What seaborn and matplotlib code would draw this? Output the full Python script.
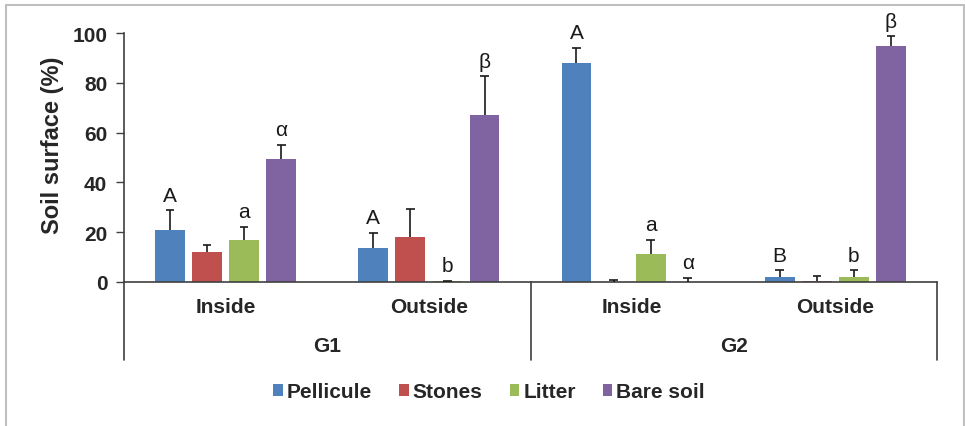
import matplotlib
matplotlib.use("Agg")
import matplotlib.pyplot as plt
import matplotlib.transforms as mtransforms
from matplotlib.lines import Line2D
import numpy as np
import pandas as pd
import seaborn as sns

# ---- data ----
groups = ["G1", "G1", "G2", "G2"]
positions = ["Inside", "Outside", "Inside", "Outside"]
series = ["Pellicule", "Stones", "Litter", "Bare soil"]
pellicule = [20.8, 13.7, 87.9, 2.1]
stones = [12.1, 18.2, 0.0, 0.5]
litter = [16.8, 0.3, 11.4, 2.1]
bare_soil = [49.2, 67.2, 0.0, 94.6]
pellicule_err = [8.0, 5.9, 6.1, 2.6]
stones_err = [2.8, 11.2, 1.0, 2.1]
litter_err = [5.3, 0.2, 5.4, 2.6]
bare_soil_err = [5.9, 15.4, 1.6, 4.1]
pellicule_lab = ["A", "A", "A", "B"]
stones_lab = ["", "", "", ""]
litter_lab = ["a", "b", "a", "b"]
bare_soil_lab = ["α", "β", "α", "β"]
yticks = [0, 20, 40, 60, 80, 100]
colors = ["#4F81BD", "#C0504D", "#9BBB59", "#8064A2"]

values = [pellicule, stones, litter, bare_soil]
errs = [pellicule_err, stones_err, litter_err, bare_soil_err]
labs = [pellicule_lab, stones_lab, litter_lab, bare_soil_lab]
keys = [f"{g}-{p}" for g, p in zip(groups, positions)]

rows = []
for s, vals in zip(series, values):
    for k, v in zip(keys, vals):
        rows.append({"cat": k, "series": s, "value": v})
df = pd.DataFrame(rows)

sns.set_theme(style="white")
plt.rcParams["font.family"] = ["Liberation Sans", "DejaVu Sans"]

fig = plt.figure(figsize=(9.65, 4.27), dpi=100)
ax = fig.add_axes([124 / 965, 1 - 283 / 427, (937 - 124) / 965, (283 - 34) / 427])

sns.barplot(data=df, x="cat", y="value", hue="series", order=keys,
            hue_order=series, palette=colors, width=0.73, gap=0.2,
            errorbar=None, ax=ax, saturation=1, linewidth=0)

axis_col = "#404040"
err_col = "#1a1a1a"
cap_half = 0.021
for cont, err, lab in zip(ax.containers, errs, labs):
    xs = np.array([p.get_x() + p.get_width() / 2 for p in cont.patches])
    hs = np.array([p.get_height() for p in cont.patches])
    tops = hs + np.array(err)
    ax.vlines(xs, hs, tops, colors=err_col, lw=1.2, zorder=3)
    ax.hlines(tops, xs - cap_half, xs + cap_half, colors=err_col, lw=1.2, zorder=3)
    for x, top, t in zip(xs, tops, lab):
        if t:
            ax.annotate(t, (x, top), xytext=(0, 7), textcoords="offset points",
                        ha="center", va="baseline", fontsize=15, color=err_col)

ax.set_xlim(-0.5, 3.5)
ax.set_ylim(0, 100)
ax.set_yticks(yticks)
ax.set_yticklabels([str(t) for t in yticks], fontsize=15, fontweight="bold")
ax.tick_params(axis="y", length=6, width=1, color=axis_col, pad=6, left=True,
               direction="out")
ax.set_xticks([])
ax.set_xlabel("")
ax.set_ylabel("")
for s in ["top", "right"]:
    ax.spines[s].set_visible(False)
for s in ["left", "bottom"]:
    ax.spines[s].set_color(axis_col)
    ax.spines[s].set_linewidth(1.2)

ax.text(-0.088, 0.552, "Soil surface (%)", transform=ax.transAxes, rotation=90,
        ha="center", va="center", fontsize=17, fontweight="bold")

trans = mtransforms.blended_transform_factory(ax.transData, ax.transAxes)
ybot = (283 - 361) / 249
for xv in [-0.5, 1.5, 3.5]:
    ax.add_line(Line2D([xv, xv], [0, ybot], transform=trans, color=axis_col,
                       lw=1.2, clip_on=False))
for i, p in enumerate(positions):
    ax.text(i, -0.10, p, transform=trans, ha="center", va="center",
            fontsize=15, fontweight="bold")
for gname, xc in [("G1", 0.5), ("G2", 2.5)]:
    ax.text(xc, -0.257, gname, transform=trans, ha="center", va="center",
            fontsize=15, fontweight="bold")

sns.move_legend(ax, "center", bbox_to_anchor=(0.507, 0.080),
                bbox_transform=fig.transFigure, ncol=4, frameon=False,
                title=None, handlelength=0.45, handleheight=0.45,
                handletextpad=0.2, columnspacing=1.3,
                prop={"size": 15, "weight": "bold"})

# outer chart border
bc = "#BFBFBF"
fig.add_artist(Line2D([5.5 / 965, 5.5 / 965], [0, 1 - 5.5 / 427], color=bc, lw=1.5))
fig.add_artist(Line2D([5.5 / 965, 963.5 / 965], [1 - 5.5 / 427, 1 - 5.5 / 427], color=bc, lw=1.5))
fig.add_artist(Line2D([963.5 / 965, 963.5 / 965], [0, 1 - 5.5 / 427], color=bc, lw=1.5))

fig.savefig("out.png", dpi=100)
